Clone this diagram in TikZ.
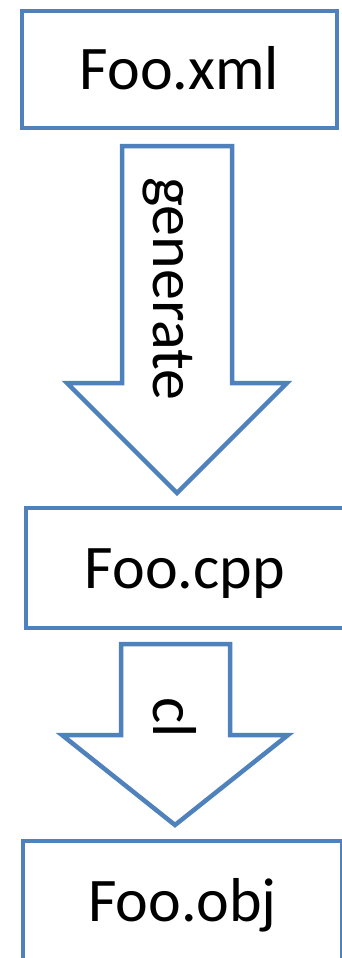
\documentclass[tikz,border=0pt]{standalone}
\usepackage{fontspec}
\setmainfont{Carlito}
\definecolor{accentblue}{RGB}{79,129,189}
\begin{document}
\begin{tikzpicture}[x=1pt,y=-1pt,
  filebox/.style={draw=accentblue, line width=4.5pt, fill=white, inner sep=0pt,
    text height=40pt, text depth=0pt, font=\fontsize{62}{70}\selectfont},
  blockarrow/.style={draw=accentblue, line width=4.5pt, fill=white, line join=miter},
  steplabel/.style={inner sep=0pt, anchor=base west, rotate=-90,
    font=\fontsize{62}{70}\selectfont}]
\useasboundingbox (0,0) rectangle (342,958);
\fill[white] (0,0) rectangle (342,958);

% source and generated files
\node[filebox, minimum width=315pt, minimum height=117pt] (xml) at (179.5,69.5) {Foo.xml};
\node[filebox, minimum width=318pt, minimum height=120pt] (cpp) at (185,568) {Foo.cpp};
\node[filebox, minimum width=319pt, minimum height=120pt] (obj) at (182.5,901) {Foo.obj};

% generate: Foo.xml -> Foo.cpp
\draw[blockarrow] (122,146) -- (232,146) -- (232,383) -- (287,383) -- (177,493)
  -- (67,383) -- (122,383) -- cycle;
\node[steplabel] (gen) at (153,177) {generate};

% cl: Foo.cpp -> Foo.obj
\draw[blockarrow] (121,644) -- (230,644) -- (230,735) -- (288,735) -- (175,825)
  -- (62,735) -- (121,735) -- cycle;
\node[steplabel] (cl) at (153,697) {cl};
\end{tikzpicture}
\end{document}
